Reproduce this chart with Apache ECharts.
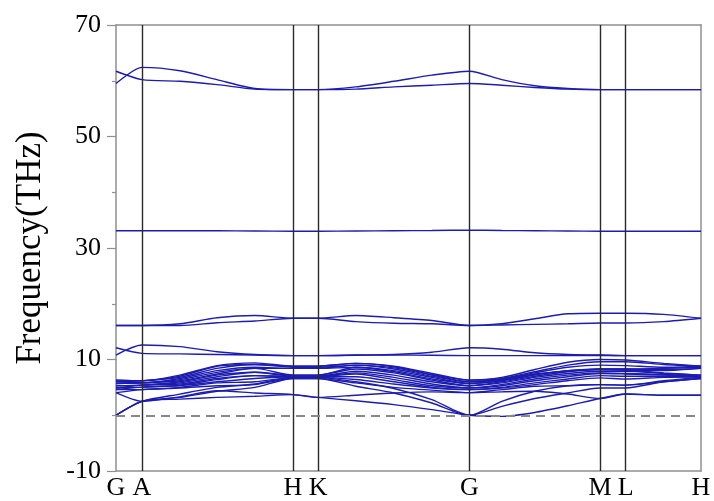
<!DOCTYPE html>
<html>
<head>
<meta charset="utf-8">
<script src="https://cdn.jsdelivr.net/npm/echarts@6/dist/echarts.min.js"></script>
<style>
  html, body { margin: 0; padding: 0; background: #fff; }
  #chart { width: 714px; height: 501px; }
</style>
</head>
<body>
<div id="chart"></div>
<script>
// high-symmetry points along the path
const kLabels = ['G', 'A', 'H', 'K', 'G', 'M', 'L', 'H'];
const kPoints = [0, 26, 177, 202.3, 353.6, 484.3, 510, 585.3];

// k positions where band values were read
const kSamples = [0, 26, 64, 101, 139, 177, 202.3, 240, 278, 316, 353.6, 386, 419, 452, 484.3, 510, 548, 585.3];

// frequencies (THz) at each sample, one array per band
const band01 = [0, 2.5, 2.9, 3.2, 3.4, 3.7, 3.2, 2.6, 1.9, 1.0, 0, -0.2, 0.5, 1.7, 3.0, 3.8, 3.6, 3.6];
const band02 = [0, 2.5, 3.2, 4.3, 5.0, 6.6, 6.6, 5.2, 4.0, 2.2, 0, 1.6, 3.0, 4.0, 4.9, 4.9, 6.0, 6.6];
const band03 = [0, 2.5, 3.8, 5.0, 5.6, 6.8, 6.8, 6.0, 4.8, 2.8, 0, 2.5, 4.3, 5.3, 5.5, 5.4, 6.2, 6.8];
const band04 = [4.05, 2.5, 3.3, 4.4, 4.0, 3.7, 3.2, 3.6, 4.0, 4.2, 4.05, 4.2, 4.3, 3.8, 3.0, 3.8, 3.6, 3.6];
const band05 = [4.05, 4.6, 4.9, 5.3, 5.5, 6.6, 6.6, 5.8, 5.0, 4.5, 4.05, 4.6, 5.2, 5.3, 5.5, 5.4, 6.0, 6.6];
const band06 = [4.6, 4.6, 5.0, 5.8, 6.0, 6.8, 6.8, 6.4, 5.6, 4.9, 4.6, 4.9, 5.5, 6.2, 6.7, 6.5, 6.8, 6.9];
const band07 = [4.6, 5.05, 5.3, 6.0, 6.6, 6.9, 6.9, 6.9, 6.0, 5.0, 4.6, 5.0, 5.8, 6.5, 7.1, 7.0, 7.0, 6.9];
const band08 = [4.9, 5.05, 5.4, 6.4, 7.1, 6.9, 6.9, 7.4, 6.4, 5.3, 4.9, 5.3, 6.2, 6.9, 7.5, 7.4, 7.2, 7.0];
const band09 = [4.9, 5.4, 5.6, 6.6, 7.1, 7.0, 7.0, 7.6, 6.8, 5.6, 4.9, 5.5, 6.5, 7.2, 7.6, 7.5, 7.3, 7.0];
const band10 = [5.3, 5.4, 5.8, 6.9, 7.7, 7.0, 7.0, 7.9, 7.2, 6.0, 5.3, 5.8, 6.8, 7.5, 7.9, 7.9, 7.5, 7.2];
const band11 = [5.3, 5.4, 6.0, 7.2, 7.7, 7.2, 7.2, 8.3, 7.6, 6.3, 5.3, 6.0, 7.0, 7.8, 8.2, 8.1, 7.6, 7.2];
const band12 = [5.7, 5.8, 6.2, 7.4, 8.4, 7.2, 7.2, 8.6, 7.8, 6.5, 5.7, 6.2, 7.2, 8.0, 8.2, 8.1, 8.0, 8.4];
const band13 = [5.7, 5.8, 6.4, 7.7, 8.4, 8.4, 8.4, 8.6, 8.0, 6.8, 5.7, 6.3, 7.3, 8.0, 8.3, 8.3, 8.2, 8.4];
const band14 = [6.0, 5.8, 6.6, 8.0, 8.6, 8.4, 8.4, 9.0, 8.3, 7.0, 6.0, 6.4, 7.4, 7.9, 8.3, 8.3, 8.4, 8.6];
const band15 = [6.0, 6.2, 6.8, 8.4, 9.1, 8.6, 8.6, 9.0, 8.5, 7.2, 6.0, 6.5, 7.6, 8.6, 9.0, 8.9, 8.6, 8.8];
const band16 = [6.3, 6.2, 7.0, 8.8, 9.1, 8.8, 8.8, 9.3, 8.7, 7.3, 6.3, 6.6, 7.8, 9.0, 9.6, 9.6, 9.1, 8.8];
const band17 = [6.3, 6.2, 7.2, 8.9, 9.4, 8.8, 8.8, 9.3, 8.8, 7.5, 6.3, 6.8, 8.2, 9.5, 10.0, 9.9, 9.3, 8.8];
const band18 = [10.8, 12.6, 12.3, 11.4, 10.9, 10.7, 10.7, 10.75, 10.8, 10.75, 10.7, 10.7, 10.7, 10.7, 10.75, 10.7, 10.7, 10.7];
const band19 = [12.1, 11.1, 11.0, 10.9, 10.8, 10.7, 10.7, 10.8, 10.9, 11.3, 12.1, 11.85, 11.2, 10.9, 10.8, 10.7, 10.7, 10.7];
const band20 = [16.1, 16.1, 16.1, 16.6, 16.9, 17.4, 17.4, 16.8, 16.5, 16.4, 16.1, 16.2, 16.3, 16.4, 16.55, 16.55, 16.8, 17.4];
const band21 = [16.1, 16.1, 16.4, 17.5, 17.9, 17.4, 17.4, 17.9, 17.5, 17.0, 16.1, 16.4, 17.3, 18.2, 18.3, 18.3, 18.1, 17.4];
const band22 = [33.1, 33.1, 33.1, 33.1, 33.05, 33.0, 33.0, 33.05, 33.1, 33.15, 33.2, 33.15, 33.1, 33.05, 33.0, 33.0, 33.0, 33.0];
const band23 = [61.7, 60.2, 59.9, 59.3, 58.5, 58.4, 58.4, 58.5, 58.9, 59.2, 59.5, 59.2, 58.8, 58.5, 58.4, 58.4, 58.4, 58.4];
const band24 = [59.5, 62.4, 61.8, 60.2, 58.6, 58.4, 58.4, 58.9, 59.9, 61.0, 61.7, 60.2, 59.1, 58.6, 58.4, 58.4, 58.4, 58.4];

const bands = [band01, band02, band03, band04, band05, band06, band07, band08, band09, band10, band11, band12,
  band13, band14, band15, band16, band17, band18, band19, band20, band21, band22, band23, band24];

const yTickLabels = [-10, 10, 30, 50, 70];
const yMinorTicks = [0, 20, 40, 60];

const serif = 'Liberation Serif';
const frameColor = '#8f8f8f';

const chart = echarts.init(document.getElementById('chart'));

const bandSeries = bands.map(b => ({
  type: 'line',
  data: kSamples.map((k, i) => [k, b[i]]),
  showSymbol: false,
  smooth: 0.25,
  lineStyle: { color: '#1c1cb0', width: 1.4 },
  z: 3,
  silent: true
}));

// vertical lines at the inner high-symmetry points and the dashed zero line
const guideSeries = {
  type: 'line',
  data: [],
  z: 2,
  markLine: {
    silent: true,
    symbol: 'none',
    label: { show: false },
    animation: false,
    data: [
      ...kPoints.slice(1, -1).map(k => ({ xAxis: k, lineStyle: { color: '#2a2a2a', width: 1.4, type: 'solid' } })),
      { yAxis: 0, lineStyle: { color: '#888', width: 1.8, type: [9, 6] } }
    ]
  }
};

chart.setOption({
  animation: false,
  grid: { left: 116, right: 13, top: 25, bottom: 28 },
  xAxis: [
    {
      type: 'value', min: 0, max: kPoints[kPoints.length - 1],
      axisLine: { show: true, onZero: false, lineStyle: { color: frameColor, width: 1.5 } },
      axisTick: { show: false },
      splitLine: { show: false },
      axisLabel: {
        customValues: kPoints,
        formatter: v => kLabels[kPoints.indexOf(v)],
        fontFamily: serif, fontSize: 26, color: '#000', margin: 4
      }
    },
    {
      type: 'value', position: 'top', min: 0, max: kPoints[kPoints.length - 1],
      axisLine: { show: true, onZero: false, lineStyle: { color: frameColor, width: 1.5 } },
      axisTick: { show: false }, axisLabel: { show: false }, splitLine: { show: false }
    }
  ],
  yAxis: [
    {
      type: 'value', min: -10, max: 70,
      name: 'Frequency(THz)', nameLocation: 'middle', nameGap: 68,
      nameTextStyle: { fontFamily: serif, fontSize: 35, color: '#000' },
      axisLine: { show: true, onZero: false, lineStyle: { color: frameColor, width: 1.5 } },
      axisTick: { show: true, customValues: yTickLabels, length: 9, lineStyle: { color: frameColor, width: 1.2 } },
      axisLabel: { customValues: yTickLabels, fontFamily: serif, fontSize: 26, color: '#000', margin: 15 },
      splitLine: { show: false }
    },
    {
      type: 'value', min: -10, max: 70, position: 'left',
      axisLine: { show: false, onZero: false },
      axisTick: { show: true, customValues: yMinorTicks, length: 4, lineStyle: { color: frameColor, width: 1.2 } },
      axisLabel: { show: false }, splitLine: { show: false }
    },
    {
      type: 'value', min: -10, max: 70, position: 'right',
      axisLine: { show: true, onZero: false, lineStyle: { color: frameColor, width: 1.5 } },
      axisTick: { show: false }, axisLabel: { show: false }, splitLine: { show: false }
    }
  ],
  series: [guideSeries, ...bandSeries]
});
</script>
</body>
</html>
